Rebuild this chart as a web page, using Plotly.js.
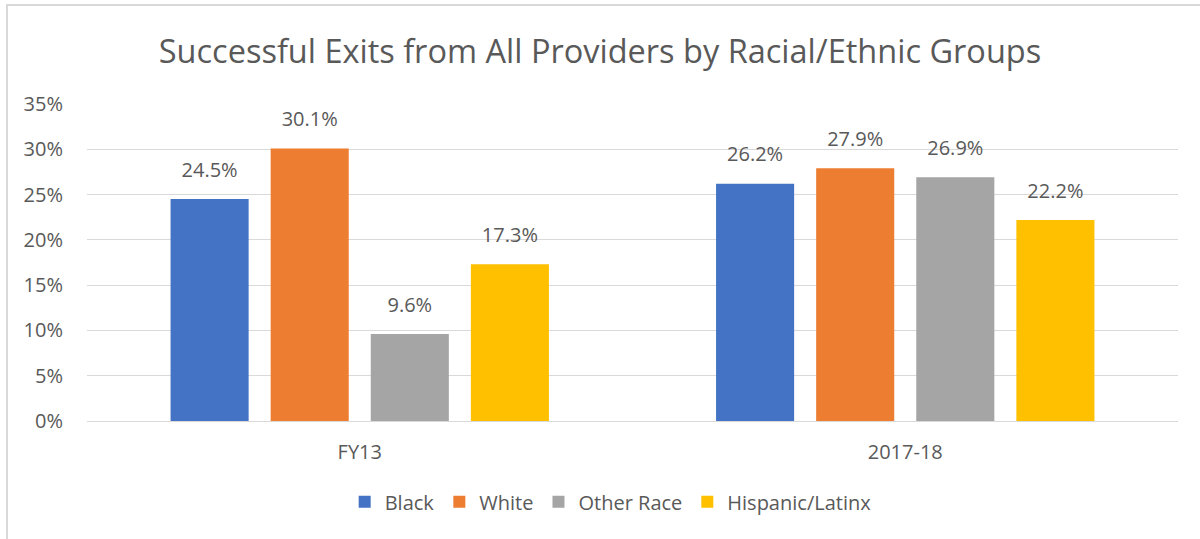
<!DOCTYPE html>
<html>
<head>
<meta charset="utf-8">
<script src="https://cdn.plot.ly/plotly-3.0.1.min.js"></script>
<style>
  html, body { margin: 0; padding: 0; background: #ffffff; }
  #frame { position: absolute; left: 0; top: 0; width: 1200px; height: 539px; }
  #edge { position: absolute; left: 6px; top: 4px; width: 1194px; height: 535px;
          border-top: 2px solid #d9d9d9; border-left: 2px solid #d9d9d9; box-sizing: border-box; pointer-events: none; }
  #chart { position: absolute; left: 0; top: 0; width: 1200px; height: 539px; }
</style>
</head>
<body>
<div id="frame">
  <div id="chart"></div>
  <div id="edge"></div>
</div>
<script>
const categories = ["FY13", "2017-18"];
const seriesNames = ["Black", "White", "Other Race", "Hispanic/Latinx"];
const black = [0.245, 0.262];
const white = [0.301, 0.279];
const otherRace = [0.096, 0.269];
const hispanic = [0.173, 0.222];
const yTickVals = [0, 0.05, 0.10, 0.15, 0.20, 0.25, 0.30, 0.35];
const yTickText = ["0%", "5%", "10%", "15%", "20%", "25%", "30%", "35%"];

const colors = ["#4472C4", "#ED7D31", "#A5A5A5", "#FFC000"];
const values = [black, white, otherRace, hispanic];
const fontFam = "Open Sans, Liberation Sans, sans-serif";
const textColor = "#595959";

const bars = values.map((v, i) => ({
  type: "bar",
  name: seriesNames[i],
  x: categories,
  y: v,
  marker: { color: colors[i] },
  offsetgroup: "g" + i,
  alignmentgroup: "a",
  hoverinfo: "skip"
}));

const labels = values.map((v, i) => ({
  type: "scatter",
  mode: "text+markers",
  name: seriesNames[i] + " label",
  showlegend: false,
  x: categories,
  y: v,
  offsetgroup: "g" + i,
  alignmentgroup: "a",
  marker: { size: 26, opacity: 0, color: colors[i] },
  text: v.map(d => (d * 100).toFixed(1) + "%"),
  textposition: "top center",
  cliponaxis: false,
  textfont: { family: fontFam, size: 20, color: textColor },
  hoverinfo: "skip"
}));

const layout = {
  width: 1200,
  height: 539,
  paper_bgcolor: "#ffffff",
  plot_bgcolor: "#ffffff",
  margin: { l: 87, r: 22, t: 104, b: 118 },
  title: {
    text: "Successful Exits from All Providers by Racial/Ethnic Groups",
    font: { family: fontFam, size: 32.5, color: textColor },
    x: 0.5, xanchor: "center",
    y: 0.905, yanchor: "middle"
  },
  barmode: "group",
  bargap: 0.266,
  bargroupgap: 0.22,
  scattermode: "group",
  scattergap: 0.266,
  showlegend: true,
  legend: {
    orientation: "h",
    x: 0.48, xanchor: "center",
    y: -0.255, yanchor: "middle",
    font: { family: fontFam, size: 20, color: textColor },
    itemwidth: 30,
    traceorder: "normal"
  },
  xaxis: {
    type: "category",
    showgrid: false,
    showline: true,
    linecolor: "#d9d9d9",
    linewidth: 1,
    ticks: "",
    tickfont: { family: fontFam, size: 20, color: textColor },
    ticklabelstandoff: 13
  },
  yaxis: {
    range: [0, 0.35],
    tickvals: yTickVals,
    ticktext: yTickText,
    showgrid: true,
    gridcolor: "#d9d9d9",
    gridwidth: 1,
    zeroline: false,
    showline: false,
    ticks: "",
    tickfont: { family: fontFam, size: 20, color: textColor },
    ticklabelstandoff: 23
  }
};

Plotly.newPlot("chart", bars.concat(labels), layout, { displayModeBar: false, staticPlot: true });
</script>
</body>
</html>
